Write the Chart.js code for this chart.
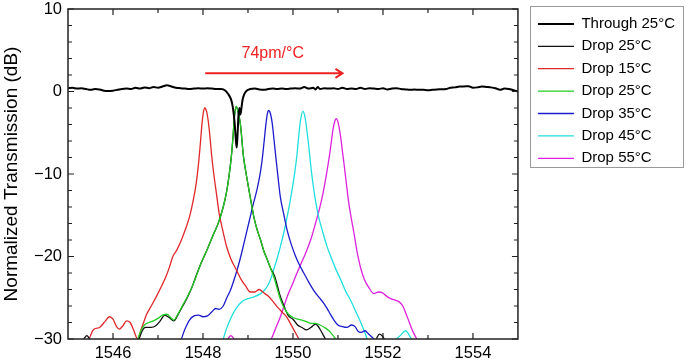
<!DOCTYPE html>
<html>
<head>
<meta charset="utf-8">
<script src="https://cdn.jsdelivr.net/npm/chart.js@4.4.1/dist/chart.umd.min.js"></script>
<style>
  html, body { margin: 0; padding: 0; background: #fff; }
  #wrap { position: relative; width: 686px; height: 363px; }
</style>
</head>
<body>
<div id="wrap"><canvas id="chart"></canvas></div>
<script>
// wavelength (nm) / transmission (dB); null = gap in the trace
const throughWl = [1545.0, 1545.1, 1545.2, 1545.3, 1545.4, 1545.5, 1545.6, 1545.7, 1545.8, 1545.9, 1546.0, 1546.1, 1546.2, 1546.3, 1546.4, 1546.5, 1546.6, 1546.7, 1546.8, 1546.9, 1547.0, 1547.1, 1547.2, 1547.3, 1547.4, 1547.5, 1547.6, 1547.7, 1547.8, 1547.9, 1548.0, 1548.1, 1548.2, 1548.3, 1548.4, 1548.5, 1548.56, 1548.62, 1548.66, 1548.7, 1548.73, 1548.75, 1548.77, 1548.79, 1548.81, 1548.83, 1548.85, 1548.88, 1548.92, 1548.97, 1549.05, 1549.15, 1549.25, 1549.35, 1549.45, 1549.55, 1549.65, 1549.75, 1549.85, 1549.95, 1550.05, 1550.15, 1550.25, 1550.35, 1550.45, 1550.5, 1550.55, 1550.6, 1550.7, 1550.8, 1550.9, 1551.0, 1551.1, 1551.2, 1551.3, 1551.4, 1551.5, 1551.6, 1551.7, 1551.8, 1551.9, 1552.0, 1552.1, 1552.2, 1552.3, 1552.4, 1552.5, 1552.6, 1552.7, 1552.8, 1552.9, 1553.0, 1553.1, 1553.2, 1553.3, 1553.4, 1553.5, 1553.6, 1553.7, 1553.8, 1553.9, 1554.0, 1554.1, 1554.2, 1554.3, 1554.4, 1554.5, 1554.6, 1554.7, 1554.8, 1554.9, 1555.0];
const throughDb = [0.4, 0.45, 0.35, 0.4, 0.3, 0.2, 0.3, 0.25, 0.1, 0.05, 0.1, 0.2, 0.3, 0.35, 0.3, 0.45, 0.35, 0.5, 0.4, 0.55, 0.45, 0.6, 0.75, 0.6, 0.45, 0.4, 0.35, 0.3, 0.35, 0.4, 0.35, 0.4, 0.35, 0.3, 0.3, 0.1, -0.3, -0.9, -1.8, -3.6, -5.8, -6.8, -5.0, -2.8, -2.0, -2.8, -2.2, -1.0, -0.3, 0.1, 0.3, 0.35, 0.25, 0.2, 0.3, 0.35, 0.3, 0.35, 0.3, 0.35, 0.4, 0.35, 0.55, 0.35, 0.45, 0.25, 0.55, 0.3, 0.4, 0.35, 0.4, 0.3, 0.45, 0.3, 0.35, 0.3, 0.45, 0.3, 0.4, 0.35, 0.3, 0.4, 0.25, 0.35, 0.4, 0.3, 0.25, 0.2, 0.25, 0.2, 0.2, 0.15, 0.2, 0.25, 0.27, 0.3, 0.45, 0.5, 0.6, 0.62, 0.65, 0.45, 0.5, 0.6, 0.55, 0.5, 0.4, 0.2, 0.35, 0.3, 0.15, 0.0];

const drop25kWl = [1545.35, 1545.42, 1545.48, 1545.6, 1546.58, 1546.65, 1546.72, 1546.85, 1546.95, 1547.05, 1547.15, 1547.25, 1547.35, 1547.45, 1547.55, 1547.65, 1547.75, 1547.85, 1547.95, 1548.05, 1548.15, 1548.25, 1548.35, 1548.45, 1548.52, 1548.58, 1548.63, 1548.67, 1548.7, 1548.74, 1548.78, 1548.83, 1548.9, 1548.96, 1549.02, 1549.08, 1549.13, 1549.2, 1549.28, 1549.35, 1549.43, 1549.5, 1549.6, 1549.7, 1549.8, 1549.9, 1550.0, 1550.1, 1550.2, 1550.3, 1550.4, 1550.5, 1550.55, 1550.62, 1550.7, 1550.72, 1551.0, 1551.85, 1551.92, 1551.98, 1552.03];
const drop25kDb = [-30, -29.6, -30, null, -30, -29.0, -28.6, -28.6, -28.4, -27.8, -27.1, -27.4, -27.8, -27.0, -26.0, -25.0, -23.8, -22.3, -20.9, -19.7, -18.4, -17.1, -15.8, -14.0, -12.3, -10.2, -7.9, -5.3, -3.0, -1.8, -2.5, -3.9, -7.9, -10.0, -11.9, -13.7, -15.2, -16.7, -18.0, -19.3, -20.4, -21.4, -22.5, -24.5, -26.0, -27.2, -27.6, -28.3, -28.6, -28.9, -28.6, -28.2, -28.4, -29.0, -29.8, -30, null, -30, -29.4, -29.6, -30];

const drop15Wl = [1545.47, 1545.56, 1545.7, 1545.82, 1545.92, 1546.0, 1546.08, 1546.14, 1546.22, 1546.3, 1546.38, 1546.45, 1546.55, 1546.62, 1546.68, 1546.74, 1546.85, 1546.96, 1547.07, 1547.18, 1547.26, 1547.33, 1547.42, 1547.52, 1547.61, 1547.7, 1547.78, 1547.85, 1547.9, 1547.94, 1547.98, 1548.01, 1548.04, 1548.08, 1548.11, 1548.15, 1548.19, 1548.24, 1548.3, 1548.36, 1548.43, 1548.52, 1548.62, 1548.74, 1548.85, 1548.95, 1549.05, 1549.15, 1549.25, 1549.35, 1549.45, 1549.55, 1549.65, 1549.77, 1549.87, 1549.95, 1550.02, 1550.1, 1550.13];
const drop15Db = [-30, -28.9, -28.6, -27.9, -27.3, -27.6, -28.5, -28.8, -28.4, -27.8, -28.0, -28.8, -30, -28.9, -28.0, -27.1, -26.0, -24.9, -23.7, -22.4, -21.2, -20.0, -19.2, -18.0, -16.7, -15.2, -13.3, -11.1, -8.8, -6.4, -3.8, -2.5, -2.0, -2.4, -3.3, -5.2, -7.6, -10.0, -12.4, -14.8, -16.6, -18.7, -20.3, -21.6, -22.8, -23.6, -24.3, -24.3, -24.0, -24.4, -24.8, -25.4, -26.1, -26.8, -27.4, -28.2, -28.9, -29.7, -30];

const drop25Wl = [1546.55, 1546.62, 1546.7, 1546.8, 1546.9, 1547.0, 1547.1, 1547.2, 1547.3, 1547.35, 1547.45, 1547.55, 1547.65, 1547.75, 1547.85, 1547.95, 1548.05, 1548.15, 1548.25, 1548.35, 1548.45, 1548.52, 1548.58, 1548.63, 1548.67, 1548.7, 1548.74, 1548.78, 1548.83, 1548.9, 1548.96, 1549.02, 1549.08, 1549.13, 1549.2, 1549.28, 1549.35, 1549.43, 1549.5, 1549.57, 1549.65, 1549.72, 1549.8, 1549.9, 1550.0, 1550.1, 1550.2, 1550.3, 1550.4, 1550.5, 1550.6, 1550.7, 1550.8, 1550.88, 1550.95];
const drop25Db = [-30, -29.0, -28.3, -28.0, -27.8, -27.5, -27.1, -27.0, -27.5, -27.7, -26.9, -25.9, -24.9, -23.8, -22.4, -20.9, -19.7, -18.4, -17.1, -15.8, -14.0, -12.3, -10.2, -7.9, -5.3, -3.0, -1.8, -2.5, -3.9, -7.9, -10.0, -11.9, -13.7, -15.2, -16.7, -18.0, -19.3, -20.4, -21.4, -22.4, -23.9, -25.2, -26.2, -27.0, -27.4, -27.6, -27.7, -27.9, -28.1, -28.1, -28.3, -28.6, -29.0, -29.5, -30];

const drop35Wl = [1547.52, 1547.6, 1547.7, 1547.8, 1547.9, 1548.0, 1548.1, 1548.2, 1548.28, 1548.36, 1548.45, 1548.53, 1548.61, 1548.68, 1548.76, 1548.84, 1548.91, 1548.98, 1549.05, 1549.12, 1549.2, 1549.26, 1549.31, 1549.36, 1549.4, 1549.43, 1549.46, 1549.5, 1549.54, 1549.58, 1549.62, 1549.67, 1549.72, 1549.8, 1549.87, 1549.96, 1550.06, 1550.15, 1550.24, 1550.35, 1550.46, 1550.57, 1550.69, 1550.8, 1550.91, 1551.0, 1551.1, 1551.2, 1551.3, 1551.38, 1551.45, 1551.52, 1551.6, 1551.68, 1551.76, 1551.8];
const drop35Db = [-30, -28.8, -27.7, -27.2, -27.1, -27.3, -27.2, -26.7, -26.3, -26.4, -26.0, -25.0, -24.1, -23.0, -21.6, -20.0, -18.4, -16.8, -15.2, -13.6, -11.9, -10.3, -8.5, -6.0, -3.9, -2.7, -2.3, -2.7, -3.9, -5.9, -8.0, -10.5, -12.8, -15.0, -16.8, -18.5, -20.0, -21.1, -22.0, -23.1, -24.1, -24.9, -25.7, -26.7, -27.7, -28.3, -28.5, -28.6, -28.3, -28.5, -29.1, -29.2, -29.0, -29.4, -29.8, -30];

const drop45Wl = [1548.45, 1548.52, 1548.6, 1548.68, 1548.76, 1548.84, 1548.91, 1549.0, 1549.13, 1549.28, 1549.38, 1549.46, 1549.52, 1549.57, 1549.65, 1549.72, 1549.8, 1549.87, 1549.93, 1549.98, 1550.04, 1550.09, 1550.13, 1550.17, 1550.22, 1550.26, 1550.3, 1550.35, 1550.39, 1550.44, 1550.5, 1550.57, 1550.65, 1550.74, 1550.84, 1550.95, 1551.06, 1551.17, 1551.28, 1551.39, 1551.5, 1551.58, 1551.65, 1552.0, 1552.3, 1552.4, 1552.5, 1552.57, 1552.63];
const drop45Db = [-30, -28.8, -27.7, -26.8, -26.1, -25.6, -25.3, -25.1, -24.9, -24.5, -24.0, -23.3, -22.5, -21.6, -20.2, -18.8, -17.0, -15.2, -13.5, -11.9, -9.8, -7.6, -5.3, -3.4, -2.4, -2.9, -4.3, -6.6, -8.7, -11.0, -13.2, -15.2, -16.8, -18.5, -20.0, -21.5, -22.8, -24.2, -25.3, -26.6, -27.9, -29.0, -30, null, -30, -29.5, -29.0, -29.4, -30];

const drop55Wl = [1548.55, 1548.62, 1548.69, 1549.0, 1549.52, 1549.6, 1549.72, 1549.87, 1550.0, 1550.09, 1550.2, 1550.31, 1550.41, 1550.5, 1550.58, 1550.65, 1550.71, 1550.76, 1550.81, 1550.85, 1550.89, 1550.93, 1550.96, 1550.99, 1551.02, 1551.06, 1551.1, 1551.14, 1551.19, 1551.24, 1551.29, 1551.35, 1551.43, 1551.5, 1551.58, 1551.68, 1551.8, 1551.9, 1551.99, 1552.08, 1552.17, 1552.27, 1552.36, 1552.44, 1552.51, 1552.58, 1552.65, 1552.75];
const drop55Db = [-30, -29.6, -30, null, -30, -28.9, -27.3, -24.9, -23.2, -22.0, -20.6, -19.2, -17.7, -16.0, -14.4, -12.8, -11.1, -9.5, -7.8, -6.2, -4.6, -3.6, -3.3, -3.5, -4.2, -5.5, -7.3, -9.0, -11.3, -13.5, -15.2, -17.0, -19.6, -21.3, -22.7, -23.7, -24.5, -24.3, -24.4, -24.8, -25.1, -25.3, -25.5, -26.0, -26.9, -27.9, -28.9, -30];

const seriesLabels = ['Through 25\u00B0C', 'Drop 25\u00B0C', 'Drop 15\u00B0C', 'Drop 25\u00B0C', 'Drop 35\u00B0C', 'Drop 45\u00B0C', 'Drop 55\u00B0C'];
const seriesColors = ['#000000', '#111111', '#e0282a', '#22cc22', '#1c1ccc', '#20dede', '#dd22dd'];

// axis ticks
const xMajor = [1546, 1548, 1550, 1552, 1554];
const xMinor = [1547, 1549, 1551, 1553];
const yMajor = [-30, -20, -10, 0, 10];
const yMinor = [-28, -26, -24, -22, -18, -16, -14, -12, -8, -6, -4, -2, 2, 4, 6, 8];

// shift annotation (data units)
const arrowFrom = [1548.05, 2.2];
const arrowTo = [1551.1, 2.2];
const arrowText = '74pm/\u00B0C';
const arrowTextPos = [1549.55, 4.6];

function pts(wl, db) {
  return wl.map((x, i) => ({ x: x, y: db[i] }));
}

const FONT = "'Liberation Sans', Arial, sans-serif";

// frame with inward ticks on all four sides
const framePlugin = {
  id: 'frame',
  afterDatasetsDraw(chart) {
    const { ctx, chartArea: a, scales } = chart;
    const xs = scales.x, ys = scales.y;
    ctx.save();
    ctx.strokeStyle = '#222';
    ctx.lineWidth = 1.5;
    ctx.strokeRect(a.left, a.top, a.right - a.left, a.bottom - a.top);
    ctx.lineWidth = 1.2;
    ctx.beginPath();
    const tx = (v, len) => {
      const p = xs.getPixelForValue(v);
      ctx.moveTo(p, a.bottom); ctx.lineTo(p, a.bottom - len);
      ctx.moveTo(p, a.top); ctx.lineTo(p, a.top + len);
    };
    const ty = (v, len) => {
      const p = ys.getPixelForValue(v);
      ctx.moveTo(a.left, p); ctx.lineTo(a.left + len, p);
      ctx.moveTo(a.right, p); ctx.lineTo(a.right - len, p);
    };
    xMajor.forEach(v => tx(v, 6));
    xMinor.forEach(v => tx(v, 4));
    yMajor.forEach(v => ty(v, 6));
    yMinor.forEach(v => ty(v, 4));
    ctx.stroke();

    // arrow + label
    const x1 = xs.getPixelForValue(arrowFrom[0]), y1 = ys.getPixelForValue(arrowFrom[1]);
    const x2 = xs.getPixelForValue(arrowTo[0]), y2 = ys.getPixelForValue(arrowTo[1]);
    ctx.strokeStyle = '#ee2222';
    ctx.lineWidth = 2;
    ctx.beginPath();
    ctx.moveTo(x1, y1); ctx.lineTo(x2, y2);
    ctx.moveTo(x2 - 7, y2 - 4.5); ctx.lineTo(x2, y2); ctx.lineTo(x2 - 7, y2 + 4.5);
    ctx.stroke();
    ctx.fillStyle = '#ee2222';
    ctx.font = '16px ' + FONT;
    ctx.textAlign = 'center';
    ctx.textBaseline = 'middle';
    ctx.fillText(arrowText, xs.getPixelForValue(arrowTextPos[0]), ys.getPixelForValue(arrowTextPos[1]));
    ctx.restore();
  },
  afterDraw(chart) {
    // border round the legend
    const lg = chart.legend;
    if (!lg || !lg.legendHitBoxes.length) return;
    const hb = lg.legendHitBoxes;
    const last = hb[hb.length - 1];
    const ctx = chart.ctx;
    const top = Math.round(chart.chartArea.top) - 2.5;
    ctx.save();
    ctx.strokeStyle = '#999';
    ctx.lineWidth = 1;
    ctx.strokeRect(Math.round(lg.left) - 0.5, top,
      Math.round(lg.right - lg.left) - 1, Math.round(last.top + last.height + 1) + 0.5 - top);
    ctx.restore();
  }
};

const series = [
  [throughWl, throughDb, 2.0, -3],
  [drop25kWl, drop25kDb, 1.3, 0],
  [drop15Wl, drop15Db, 1.3, 0],
  [drop25Wl, drop25Db, 1.3, -1],
  [drop35Wl, drop35Db, 1.3, 0],
  [drop45Wl, drop45Db, 1.3, 0],
  [drop55Wl, drop55Db, 1.3, 0]
];

const datasets = series.map((s, i) => ({
  label: seriesLabels[i],
  data: pts(s[0], s[1]),
  borderColor: seriesColors[i],
  backgroundColor: seriesColors[i],
  borderWidth: s[2],
  order: s[3],
  pointRadius: 0,
  cubicInterpolationMode: 'monotone',
  spanGaps: false,
  fill: false
}));

new Chart(document.getElementById('chart'), {
  type: 'line',
  data: { datasets: datasets },
  options: {
    responsive: true,
    maintainAspectRatio: false,
    animation: false,
    parsing: false,
    layout: { padding: { left: 0, right: 1, top: 0, bottom: 0 } },
    plugins: {
      tooltip: { enabled: false },
      legend: {
        position: 'right',
        align: 'start',
        fullSize: false,
        maxWidth: 220,
        labels: {
          usePointStyle: true,
          pointStyle: 'line',
          pointStyleWidth: 36,
          padding: 7.4,
          color: '#000',
          font: { family: FONT, size: 15 },
          sort: (a, b) => a.datasetIndex - b.datasetIndex
        }
      }
    },
    scales: {
      x: {
        type: 'linear',
        min: 1545,
        max: 1555,
        grid: { display: false, drawTicks: false },
        border: { display: false },
        afterBuildTicks: s => { s.ticks = xMajor.map(v => ({ value: v })); },
        afterFit: s => { s.height = 24; s.paddingLeft = 0; s.paddingRight = 0; },
        ticks: {
          color: '#000',
          padding: 5,
          maxRotation: 0,
          font: { family: FONT, size: 16.5, lineHeight: 1.1 },
          callback: v => String(v)
        }
      },
      y: {
        type: 'linear',
        min: -30,
        max: 10,
        grid: { display: false, drawTicks: false },
        border: { display: false },
        afterBuildTicks: s => { s.ticks = yMajor.map(v => ({ value: v })); },
        afterFit: s => { s.width = 68; s.paddingTop = 9; s.paddingBottom = 0; },
        ticks: {
          color: '#000',
          padding: 6,
          font: { family: FONT, size: 16.5, lineHeight: 1.1 },
          callback: v => (v < 0 ? '\u2212' + Math.abs(v) : String(v))
        },
        title: {
          display: true,
          text: 'Normalized Transmission (dB)',
          color: '#000',
          padding: { top: 0, bottom: 0 },
          font: { family: FONT, size: 19 }
        }
      },
      gap: {
        type: 'linear',
        position: 'right',
        display: true,
        grid: { display: false, drawTicks: false },
        border: { display: false },
        ticks: { display: false },
        afterFit: s => { s.width = 12.6; s.paddingTop = 0; s.paddingBottom = 0; }
      }
    }
  },
  plugins: [framePlugin]
});
</script>
</body>
</html>
